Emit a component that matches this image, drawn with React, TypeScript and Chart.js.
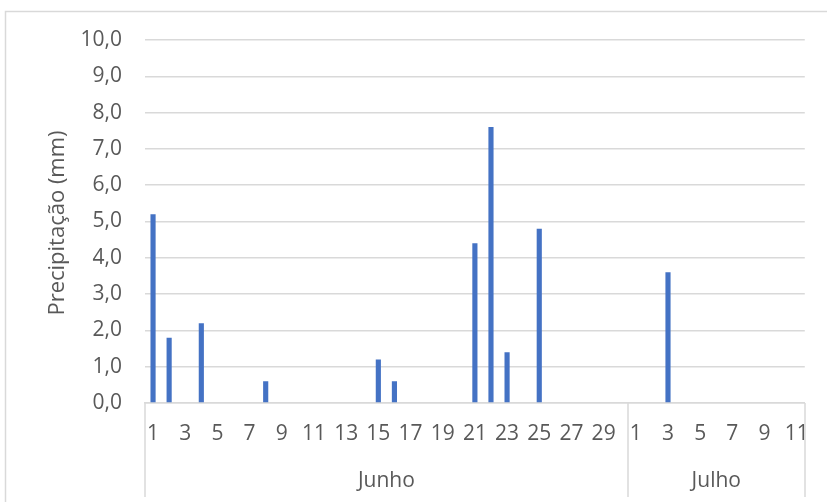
import React, { useEffect, useRef } from "react";
import { Chart, registerables } from "chart.js";

Chart.register(...registerables);

const juneDays: string[] = Array.from({ length: 30 }, (_, i) => String(i + 1));
const julyDays: string[] = Array.from({ length: 11 }, (_, i) => String(i + 1));
const juneValues: number[] = [
  5.2, 1.8, 0, 2.2, 0, 0, 0, 0.6, 0, 0,
  0, 0, 0, 0, 1.2, 0.6, 0, 0, 0, 0,
  4.4, 7.6, 1.4, 0, 4.8, 0, 0, 0, 0, 0,
];
const julyValues: number[] = [0, 0, 3.6, 0, 0, 0, 0, 0, 0, 0, 0];
const groups: { name: string; count: number }[] = [
  { name: "Junho", count: juneDays.length },
  { name: "Julho", count: julyDays.length },
];
const yTitle = "Precipitação (mm)";

const FONT = "'Open Sans', 'Liberation Sans', sans-serif";
const TEXT = "#595959";
const GRID = "#d9d9d9";

const decorPlugin = {
  id: "decor",
  afterDraw(chart: any) {
    const ctx = chart.ctx;
    const x = chart.scales.x;
    const area = chart.chartArea;
    ctx.save();
    ctx.strokeStyle = GRID;
    ctx.lineWidth = 1.5;
    ctx.beginPath();
    ctx.moveTo(5.5, chart.height + 2);
    ctx.lineTo(5.5, 11.5);
    ctx.lineTo(chart.width + 2, 11.5);
    ctx.stroke();

    const step = x.getPixelForValue(1) - x.getPixelForValue(0);
    let start = 0;
    const bounds: number[] = [];
    bounds.push(x.getPixelForValue(0) - step / 2);
    ctx.font = `21px ${FONT}`;
    ctx.fillStyle = TEXT;
    ctx.textAlign = "center";
    ctx.textBaseline = "middle";
    for (const g of groups) {
      const l = x.getPixelForValue(start) - step / 2;
      const r = x.getPixelForValue(start + g.count - 1) + step / 2;
      bounds.push(r);
      ctx.fillText(g.name, (l + r) / 2, 481);
      start += g.count;
    }
    ctx.strokeStyle = GRID;
    ctx.lineWidth = 1.5;
    for (const b of bounds) {
      ctx.beginPath();
      ctx.moveTo(Math.round(b), area.bottom);
      ctx.lineTo(Math.round(b), 497);
      ctx.stroke();
    }

    ctx.save();
    ctx.translate(58, 223);
    ctx.rotate(-Math.PI / 2);
    ctx.font = `22px ${FONT}`;
    ctx.fillStyle = TEXT;
    ctx.textAlign = "center";
    ctx.textBaseline = "middle";
    ctx.fillText(yTitle, 0, 0);
    ctx.restore();
    ctx.restore();
  },
};

export default function App() {
  const ref = useRef<HTMLCanvasElement>(null);
  useEffect(() => {
    document.body.style.margin = "0";
    const labels = [...juneDays, ...julyDays];
    const data = [...juneValues, ...julyValues];
    const chart = new Chart(ref.current!, {
      type: "bar",
      data: {
        labels,
        datasets: [
          {
            data,
            backgroundColor: "#4472c4",
            categoryPercentage: 1,
            barPercentage: 0.32,
          },
        ],
      },
      options: {
        animation: false,
        responsive: false,
        maintainAspectRatio: false,
        layout: { padding: { left: 0, top: 40, right: 21, bottom: 0 } },
        plugins: { legend: { display: false }, tooltip: { enabled: false } },
        scales: {
          x: {
            grid: { display: false, drawTicks: false },
            border: { display: true, color: GRID, width: 1.5 },
            ticks: {
              autoSkip: false,
              maxRotation: 0,
              padding: 18,
              color: TEXT,
              font: { family: FONT, size: 21 },
              callback: (_v: any, i: number) => (i % 2 === 0 ? labels[i] : ""),
            },
            afterFit: (s: any) => {
              s.height = 99;
            },
          },
          y: {
            min: 0,
            max: 10,
            grid: { color: GRID, lineWidth: 1.5, drawTicks: false },
            border: { display: false },
            ticks: {
              stepSize: 1,
              padding: 23,
              color: TEXT,
              font: { family: FONT, size: 21 },
              callback: (v: any) => Number(v).toFixed(1).replace(".", ","),
            },
            afterFit: (s: any) => {
              s.width = 145;
            },
          },
        },
      },
      plugins: [decorPlugin],
    });
    return () => chart.destroy();
  }, []);
  return <canvas ref={ref} width={827} height={502} style={{ display: "block" }} />;
}
